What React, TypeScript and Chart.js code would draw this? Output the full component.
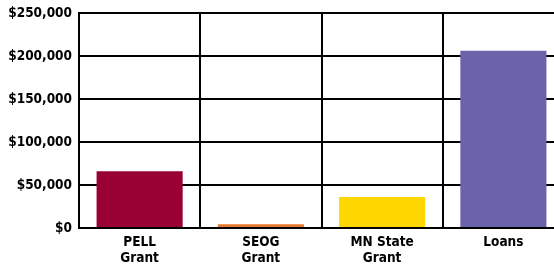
import React, { useEffect, useRef } from "react";
import { Chart, registerables } from "chart.js";

Chart.register(...registerables);

const categories: string[][] = [["PELL", "Grant"], ["SEOG", "Grant"], ["MN State", "Grant"], ["Loans"]];
const amounts: number[] = [66000, 4500, 36000, 206000];
const barColors: string[] = ["#990033", "#E8772E", "#FFD700", "#6A63A9"];
const yTicks: number[] = [0, 50000, 100000, 150000, 200000, 250000];

export default function App() {
  const ref = useRef<HTMLCanvasElement | null>(null);
  useEffect(() => {
    document.body.style.overflow = "hidden";
    const ctx = ref.current!;
    const font = { family: "'DejaVu Sans Condensed', 'Liberation Sans Narrow', sans-serif", weight: "bold" as const };
    const chart = new Chart(ctx, {
      type: "bar",
      data: {
        labels: categories,
        datasets: [
          {
            data: amounts,
            backgroundColor: barColors,
            borderWidth: 0,
            barPercentage: 0.71,
            categoryPercentage: 1,
          },
        ],
      },
      options: {
        animation: false,
        responsive: false,
        maintainAspectRatio: false,
        layout: { padding: { top: 13, right: 6, left: 0, bottom: 0 } },
        plugins: { legend: { display: false }, tooltip: { enabled: false } },
        scales: {
          x: {
            grid: { color: "#000", lineWidth: 2, drawTicks: false, offset: true },
            border: { color: "#000", width: 2 },
            ticks: {
              color: "#000",
              padding: 7,
              maxRotation: 0,
              font: { ...font, size: 13.5, lineHeight: 1.18 },
            },
            afterFit: (s: any) => {
              s.height = 43;
              s.paddingLeft = 0;
              s.paddingRight = 0;
            },
          },
          y: {
            min: 0,
            max: 250000,
            afterBuildTicks: (s: any) => {
              s.ticks = yTicks.map((v) => ({ value: v }));
            },
            grid: { color: "#000", lineWidth: 2, drawTicks: false },
            border: { color: "#000", width: 2 },
            ticks: {
              color: "#000",
              padding: 7,
              font: { ...font, size: 13.5 },
              callback: (v: any) => "$" + Number(v).toLocaleString("en-US"),
            },
            afterFit: (s: any) => {
              s.width = 79;
              s.paddingTop = 0;
              s.paddingBottom = 0;
            },
          },
        },
      },
    });
    return () => chart.destroy();
  }, []);
  return (
    <div style={{ position: "fixed", left: 0, top: 0, width: 570, height: 271, background: "#fff" }}>
      <canvas ref={ref} width={570} height={271} style={{ width: 570, height: 271 }} />
    </div>
  );
}
